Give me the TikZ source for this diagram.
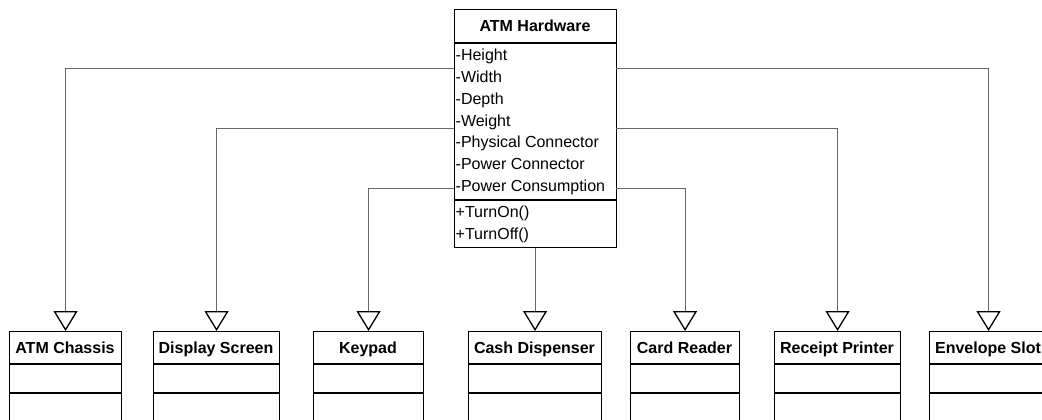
\documentclass[tikz,border=0pt]{standalone}
\usepackage{fontspec}
\setmainfont{Liberation Sans}
\usetikzlibrary{arrows.meta}
\begin{document}
\begin{tikzpicture}[x=1pt,y=-1pt,
  box/.style={draw=black, line width=1.1pt, inner sep=0pt, anchor=north west},
  sep/.style={draw=black, line width=1.1pt},
  ttl/.style={font=\fontsize{16}{19}\selectfont\bfseries, anchor=base, inner sep=0pt},
  attr/.style={font=\fontsize{16}{19}\selectfont, anchor=base west, inner sep=0pt},
  gen/.style={draw=black!60, line width=1pt, -{Triangle[open, width=24pt, length=20pt, line width=1.3pt, color=black]}}
]
\useasboundingbox (0,0) rectangle (1042,420);
\clip (0,0) rectangle (1042,420);
\fill[white] (0,0) rectangle (1042,420);

% ATM Hardware
\node[box, minimum width=162pt, minimum height=238pt] (hw) at (454,9) {};
\draw[sep] (454,43) -- (616,43);
\draw[sep] (454,200) -- (616,200);
\node[ttl] (hwt) at (535,31.5) {ATM Hardware};
\node[attr] (a1) at (455.5,61) {-Height};
\node[attr] (a2) at (455.5,82.7) {-Width};
\node[attr] (a3) at (455.5,104.4) {-Depth};
\node[attr] (a4) at (455.5,126.1) {-Weight};
\node[attr] (a5) at (455.5,147.8) {-Physical Connector};
\node[attr] (a6) at (455.5,169.5) {-Power Connector};
\node[attr] (a7) at (455.5,191.2) {-Power Consumption};
\node[attr] (m1) at (455.5,217) {+TurnOn()};
\node[attr] (m2) at (455.5,239) {+TurnOff()};

% Subclasses
\foreach \n/\l/\r/\t in {chassis/9/121/ATM Chassis, display/153/279/Display Screen, keypad/313/423/Keypad, cash/468/601/Cash Dispenser, card/630/739/Card Reader, receipt/774/900/Receipt Printer, envelope/929/1047/Envelope Slot}{
  \node[box, minimum width={\r-\l}, minimum height=110pt] (\n) at (\l,331) {};
  \draw[sep] (\l,364) -- (\r,364);
  \draw[sep] (\l,393) -- (\r,393);
  \node[ttl] (\n t) at ({(\l+\r)/2},353) {\t};
}

% Generalisation connectors
\coordinate (w1) at (454,69);
\coordinate (w2) at (454,128);
\coordinate (w3) at (454,188);
\coordinate (e1) at (616,69);
\coordinate (e2) at (616,128);
\coordinate (e3) at (616,188);
\draw[gen] (w1) -| (chassis.north);
\draw[gen] (w2) -| (display.north);
\draw[gen] (w3) -| (keypad.north);
\draw[gen] (hw.south -| cash.north) -- (cash.north);
\draw[gen] (e3) -| (card.north);
\draw[gen] (e2) -| (receipt.north);
\draw[gen] (e1) -| (envelope.north);
\end{tikzpicture}
\end{document}
